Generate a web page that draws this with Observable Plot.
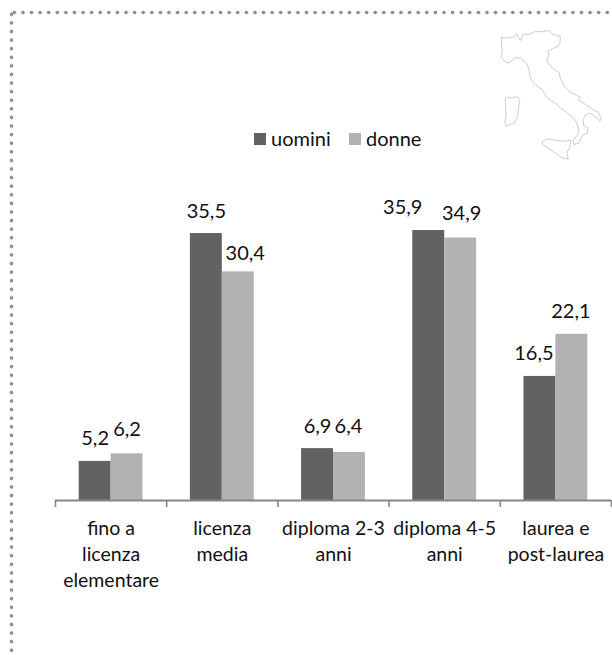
<!DOCTYPE html>
<html><head><meta charset="utf-8">
<script src="https://cdn.jsdelivr.net/npm/d3@7"></script>
<script src="https://cdn.jsdelivr.net/npm/@observablehq/plot@0.6"></script>
<style>
html,body{margin:0;padding:0;background:#fff}
#page{position:relative;width:612px;height:655px;overflow:hidden;font-family:Lato,sans-serif;color:#111}
#page svg{position:absolute;left:0;top:0;background:transparent;max-width:none}
.dots-top{position:absolute;left:9.6px;top:10px;width:602.4px;height:5px;background:radial-gradient(circle at center,#8f8f8f 1.5px,transparent 2.2px) 0 0/8.6px 5px repeat-x}
.dots-left{position:absolute;left:9.4px;top:10px;width:5px;height:645px;background:radial-gradient(circle at center,#8f8f8f 1.5px,transparent 2.2px) 0 0/5px 8.6px repeat-y}
.legend{position:absolute;top:127px;left:254px;font-size:20px;line-height:24px;height:24px;white-space:nowrap}
.legend i{position:absolute;top:6px;width:12px;height:12px}
.legend span{position:absolute;top:-1px}
</style></head>
<body><div id="page"><div class="dots-top"></div><div class="dots-left"></div></div>
<script>
const categories = ["fino a\nlicenza\nelementare","licenza\nmedia","diploma 2-3\nanni","diploma 4-5\nanni","laurea e\npost-laurea"];
const uomini = [5.2,35.5,6.9,35.9,16.5];
const donne  = [6.2,30.4,6.4,34.9,22.1];
const seriesNames = ["uomini","donne"];
const seriesColors = ["#626262","#b2b2b2"];

// Italy outline (x, y in picture units)
const mainlandX = [184,205,222,228,235,241,248,262,275,285,300,315,328,333,345,360,358,352,335,322,325,318,325,340,355,360,372,390,410,420,413,435,460,473,482,478,465,450,435,428,430,442,440,425,415,400,398,412,415,405,395,372,360,340,320,305,285,270,265,258,240,222,205,195,183,185,183,184];
const mainlandY = [112,112,108,100,112,120,100,103,98,92,94,92,90,100,103,110,128,138,145,152,165,178,190,208,215,235,258,275,285,290,298,312,328,335,352,362,350,338,342,358,375,382,398,405,428,432,420,402,385,360,348,330,322,305,292,268,252,235,205,188,172,172,188,185,170,150,130,112];
const sicilyX = [305,318,340,365,392,388,380,383,365,345,320,305,305];
const sicilyY = [425,415,418,422,420,440,455,476,472,458,440,432,425];
const sardiniaX = [195,200,215,228,238,234,232,222,208,198,193,197,195,195];
const sardiniaY = [295,290,293,288,300,320,345,368,372,378,365,340,320,295];

const barWidth = 0.287;
const rows = categories.flatMap((c,i)=>[
  {i, s:0, v:uomini[i]},
  {i, s:1, v:donne[i]}
]);
// individual placement of each value label relative to its bar, as in the picture
const labelOffset = [
  [[0,-23],[0,-24]],
  [[0,-22],[7,-18]],
  [[0,-22],[-1,-26]],
  [[-26,-23],[1,-24]],
  [[-6,-23],[-1,-23]]
];
const fmt = v => v.toFixed(1).replace(".",",");
const fontFamily = "Lato, sans-serif";
const textColor = "#111";

const chart = Plot.plot({
  width:612, height:655,
  marginLeft:55, marginRight:1, marginTop:199.2, marginBottom:155,
  style:{background:"transparent", fontFamily},
  x:{domain:[0,categories.length], axis:null},
  y:{domain:[0,40], axis:null},
  color:{domain:[0,1], range:seriesColors, type:"ordinal"},
  marks:[
    Plot.rectY(rows,{
      x1:d=>d.i+0.5+(d.s-1)*barWidth,
      x2:d=>d.i+0.5+d.s*barWidth,
      y1:0, y2:"v", fill:"s"
    }),
    Plot.axisX({
      anchor:"bottom", ticks:d3.range(categories.length+1), tickSize:7,
      tickFormat:()=>"", stroke:"#868686", strokeWidth:1.6, strokeOpacity:1, label:null
    }),
    Plot.ruleY([0],{stroke:"#868686",strokeWidth:2}),
    Plot.text(categories,{
      x:(d,i)=>i+0.5, y:()=>0, text:d=>d,
      lineAnchor:"top", dy:16, fontSize:19.5, lineHeight:1.34, fill:textColor
    }),
    ...rows.map(d=>Plot.text([d],{
      x:r=>r.i+0.5+(r.s-0.5)*barWidth, y:"v", text:r=>fmt(r.v),
      dx:labelOffset[d.i][d.s][0],
      dy:labelOffset[d.i][d.s][1],
      fontSize:20, fill:textColor
    }))
  ]
});

const map = Plot.plot({
  width:172, height:180, margin:0,
  style:{background:"transparent"},
  x:{domain:[0,516], axis:null},
  y:{domain:[540,0], axis:null},
  marks:[
    [mainlandX,mainlandY],[sicilyX,sicilyY],[sardiniaX,sardiniaY]
  ].map(([xs,ys])=>Plot.line(xs.map((x,i)=>[x,ys[i]]),{x:"0",y:"1",stroke:"#cccccc",strokeWidth:1,curve:"linear"}))
});
map.style.left="440px";

const page = document.getElementById("page");
page.append(chart, map);

const legend = document.createElement("div");
legend.className="legend";
const legendPos = [[0,17],[95,112]];
seriesNames.forEach((name,k)=>{
  const sw=document.createElement("i");
  sw.style.left=legendPos[k][0]+"px"; sw.style.background=seriesColors[k];
  const t=document.createElement("span");
  t.style.left=legendPos[k][1]+"px"; t.textContent=name;
  legend.append(sw,t);
});
page.append(legend);
</script>
</body></html>
